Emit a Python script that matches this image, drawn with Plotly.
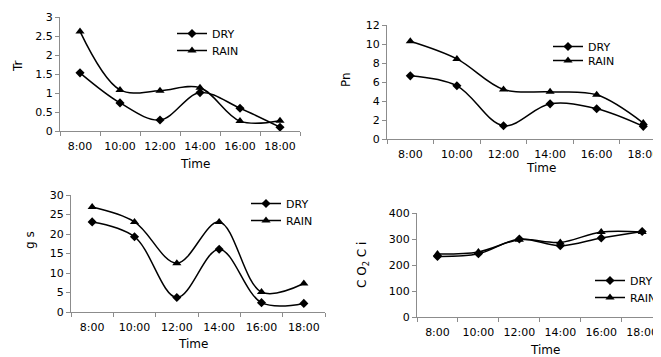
import plotly.graph_objects as go

# The page body adds an 8px margin, so the figure is drawn at (8, 8) of the window.
OFF = 8
W, H = 661 - OFF, 357 - OFF

times = ["8:00", "10:00", "12:00", "14:00", "16:00", "18:00"]

tr_dry = [1.53, 0.74, 0.29, 1.01, 0.60, 0.10]
tr_rain = [2.62, 1.08, 1.06, 1.14, 0.26, 0.27]

pn_dry = [6.65, 5.6, 1.4, 3.7, 3.18, 1.33]
pn_rain = [10.29, 8.43, 5.21, 4.97, 4.65, 1.68]

gs_dry = [23.1, 19.3, 3.7, 16.1, 2.4, 2.2]
gs_rain = [26.9, 23.1, 12.5, 23.1, 5.1, 7.3]

ci_dry = [233, 243, 300, 274, 304, 329]
ci_rain = [242, 250, 297, 287, 327, 327]

series_names = ["DRY", "RAIN"]

FONT = "DejaVu Sans, Arial, sans-serif"

def px_x(p):
    return min(max((p - OFF) / W, 0), 1)

def px_y(p):
    return min(max(1 - (p - OFF) / H, 0), 1)

panels = [
    dict(x0=60, x1=300, yt=17, yb=131, xr=5.5, ymax=3, dtick=0.5, dry=tr_dry, rain=tr_rain,
         ytitle="Tr", ytx=18, yty=66, tx=195, ty=164, lgx=172, lgy=(33, 50)),
    dict(x0=387, x1=661, yt=25, yb=139, xr=5.38, ymax=12, dtick=2, dry=pn_dry, rain=pn_rain,
         ytitle="Pn", ytx=346, yty=80, tx=541, ty=168, lgx=548, lgy=(46, 60)),
    dict(x0=71, x1=325, yt=195, yb=312, xr=5.5, ymax=30, dtick=5, dry=gs_dry, rain=gs_rain,
         ytitle="g s", ytx=30, yty=240, tx=193, ty=344, lgx=246, lgy=(203, 220)),
    dict(x0=417, x1=661, yt=213, yb=317, xr=5.46, ymax=400, dtick=100, dry=ci_dry, rain=ci_rain,
         ytitle="C O<sub>2</sub> C i", ytx=363, yty=265, tx=545, ty=350, lgx=590, lgy=(280, 297)),
]

fig = go.Figure()
annotations = []
layout_updates = {}
leg_idx = 0

for i, p in enumerate(panels):
    n = "" if i == 0 else str(i + 1)
    xa = "x" + n
    ya = "y" + n
    for k, (name, vals, sym) in enumerate(((series_names[0], p["dry"], "diamond"),
                                           (series_names[1], p["rain"], "triangle-up"))):
        leg_idx += 1
        lg = "legend" if leg_idx == 1 else "legend%d" % leg_idx
        fig.add_trace(go.Scatter(
            x=times, y=vals, name=name, mode="lines+markers",
            line=dict(color="black", width=1.5, shape="spline", smoothing=1),
            marker=dict(symbol=sym, size=8 if sym == "triangle-up" else 7, color="black"),
            xaxis=xa, yaxis=ya, legend=lg, showlegend=True,
        ))
        layout_updates[lg] = dict(
            x=(p["lgx"] - OFF) / W, y=1 - (p["lgy"][k] - 14 - OFF) / H,
            xanchor="left", yanchor="top", visible=True,
            bgcolor="rgba(0,0,0,0)", font=dict(family=FONT, size=11, color="black"),
            itemwidth=30,
        )
    layout_updates["xaxis" + n] = dict(
        domain=[px_x(p["x0"]), px_x(p["x1"])], anchor=ya, type="category",
        range=[-0.5, p["xr"]], showgrid=False, zeroline=False,
        showline=True, linecolor="#8c8c8c", linewidth=1,
        ticks="outside", tickson="boundaries", ticklen=4, tickcolor="#8c8c8c",
        ticklabelstandoff=5, tickangle=0,
        tickfont=dict(family=FONT, size=11, color="black"),
    )
    layout_updates["yaxis" + n] = dict(
        domain=[px_y(p["yb"]), px_y(p["yt"])], anchor=xa,
        range=[0, p["ymax"]], dtick=p["dtick"], showgrid=False, zeroline=False,
        showline=True, linecolor="#8c8c8c", linewidth=1,
        ticks="outside", ticklen=4, tickcolor="#8c8c8c",
        tickfont=dict(family=FONT, size=11, color="black"),
    )
    annotations.append(dict(text=p["ytitle"], x=px_x(p["ytx"]), y=px_y(p["yty"]),
                            xref="paper", yref="paper", showarrow=False, textangle=-90,
                            xanchor="center", yanchor="middle",
                            font=dict(family=FONT, size=12, color="black")))
    annotations.append(dict(text="Time", x=px_x(p["tx"]), y=px_y(p["ty"]),
                            xref="paper", yref="paper", showarrow=False,
                            xanchor="center", yanchor="middle",
                            font=dict(family=FONT, size=12, color="black")))

fig.update_layout(
    width=W, height=H, showlegend=True,
    margin=dict(l=0, r=0, t=0, b=0, autoexpand=False),
    paper_bgcolor="white", plot_bgcolor="white",
    annotations=annotations,
    **layout_updates,
)

fig.write_html("out.html")
